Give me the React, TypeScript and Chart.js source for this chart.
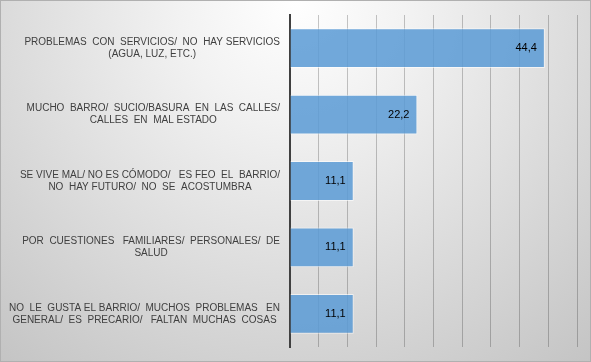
import React, { useEffect, useRef } from "react";
import { Chart, registerables } from "chart.js";

Chart.register(...registerables);

const categories: string[][] = [
  ["PROBLEMAS  CON  SERVICIOS/  NO  HAY SERVICIOS", "(AGUA, LUZ, ETC.)"],
  ["MUCHO  BARRO/  SUCIO/BASURA  EN  LAS  CALLES/", "CALLES  EN  MAL ESTADO"],
  ["SE VIVE MAL/ NO ES CÓMODO/   ES FEO  EL  BARRIO/", "NO  HAY FUTURO/  NO  SE  ACOSTUMBRA"],
  ["POR  CUESTIONES   FAMILIARES/  PERSONALES/  DE", "SALUD"],
  ["NO  LE  GUSTA EL BARRIO/  MUCHOS  PROBLEMAS   EN", "GENERAL/  ES  PRECARIO/   FALTAN  MUCHAS  COSAS"],
];
const values: number[] = [44.4, 22.2, 11.1, 11.1, 11.1];
const xMin = 0;
const xMax = 50;
const xStep = 5;

const LABEL_FONT = '10px "Liberation Sans", Arial, sans-serif';
const VALUE_FONT = '11px "Liberation Sans", Arial, sans-serif';

const yLabelPlugin = {
  id: "yLabelPlugin",
  afterDraw(chart: any) {
    const ctx = chart.ctx;
    const scale = chart.scales.y;
    ctx.save();
    ctx.font = LABEL_FONT;
    ctx.fillStyle = "#404040";
    ctx.textAlign = "center";
    ctx.textBaseline = "middle";
    const lineH = 12;
    const rightEdge = scale.right - 10;
    categories.forEach((lines, i) => {
      const yc = scale.getPixelForTick(i);
      const maxW = Math.max(...lines.map((l) => ctx.measureText(l).width));
      const cx = rightEdge - maxW / 2;
      const y0 = yc - ((lines.length - 1) * lineH) / 2;
      lines.forEach((l, j) => ctx.fillText(l, cx, y0 + j * lineH));
    });
    ctx.restore();
  },
};

const valueLabelPlugin = {
  id: "valueLabelPlugin",
  afterDatasetsDraw(chart: any) {
    const ctx = chart.ctx;
    const meta = chart.getDatasetMeta(0);
    ctx.save();
    ctx.font = VALUE_FONT;
    ctx.fillStyle = "#000000";
    ctx.textAlign = "right";
    ctx.textBaseline = "middle";
    meta.data.forEach((bar: any, i: number) => {
      const txt = values[i].toFixed(1).replace(".", ",");
      ctx.fillText(txt, bar.x - 8, bar.y);
    });
    ctx.restore();
  },
};

export default function App() {
  const ref = useRef<HTMLCanvasElement | null>(null);
  useEffect(() => {
    document.body.style.margin = "0";
    if (!ref.current) return;
    const chart = new Chart(ref.current, {
      type: "bar",
      data: {
        labels: categories.map((c) => c.join(" ")),
        datasets: [
          {
            data: values,
            backgroundColor: "rgba(91,155,213,0.86)",
            borderColor: "rgba(255,255,255,0.6)",
            borderWidth: 1,
            barPercentage: 0.6,
            categoryPercentage: 1,
          },
        ],
      },
      options: {
        indexAxis: "y",
        animation: false,
        responsive: true,
        maintainAspectRatio: false,
        layout: { padding: { top: 15, right: 14, bottom: 15, left: 0 } },
        plugins: {
          legend: { display: false },
          tooltip: { enabled: false },
          title: { display: false },
        },
        scales: {
          x: {
            min: xMin,
            max: xMax,
            ticks: { display: false, stepSize: xStep },
            grid: { color: "rgba(0,0,0,0.22)", lineWidth: 1, drawTicks: false },
            border: { display: false },
          },
          y: {
            ticks: { display: false },
            grid: { display: false, drawTicks: false },
            border: { display: true, color: "#404040", width: 2 },
            afterFit: (scale: any) => {
              scale.width = 290;
            },
          },
        },
      },
      plugins: [yLabelPlugin, valueLabelPlugin],
    });
    return () => chart.destroy();
  }, []);
  return (
    <div
      style={{
        position: "relative",
        width: 591,
        height: 362,
        background: "radial-gradient(circle at 50% 0%, #ffffff 0%, #f2f2f2 25%, #c4c4c4 100%)",
        boxShadow: "inset 0 0 0 1px #b0b0b0",
      }}
    >
      <canvas ref={ref} />
    </div>
  );
}
